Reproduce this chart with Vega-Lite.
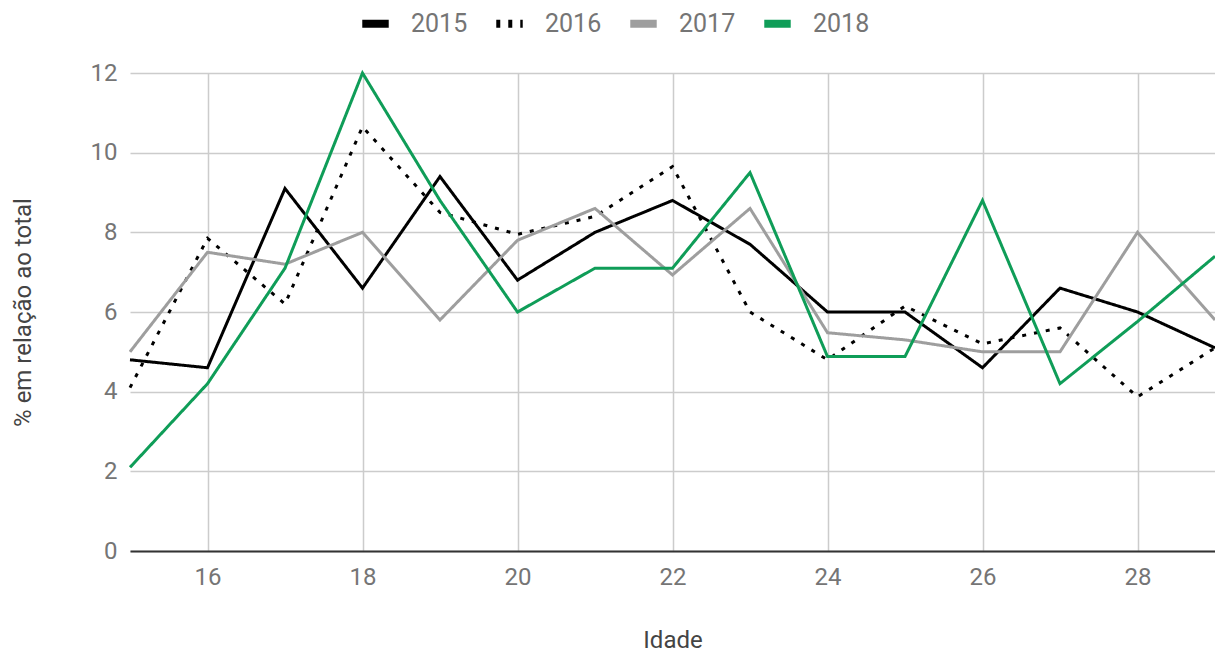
{
  "$schema": "https://vega.github.io/schema/vega-lite/v6.json",
  "width": 1085,
  "height": 478,
  "autosize": {"type": "none"},
  "padding": {"left": 130, "top": 73, "right": 0, "bottom": 103},
  "background": "white",
  "config": {
    "view": {"stroke": null},
    "font": "Roboto",
    "axis": {"labelFont": "Roboto", "titleFont": "Roboto"},
    "legend": {"labelFont": "Roboto"}
  },
  "data": {
    "values": [
      {"idade": 15, "ano": "2015", "pct": 4.8},
      {"idade": 16, "ano": "2015", "pct": 4.6},
      {"idade": 17, "ano": "2015", "pct": 9.1},
      {"idade": 18, "ano": "2015", "pct": 6.6},
      {"idade": 19, "ano": "2015", "pct": 9.4},
      {"idade": 20, "ano": "2015", "pct": 6.8},
      {"idade": 21, "ano": "2015", "pct": 8.0},
      {"idade": 22, "ano": "2015", "pct": 8.8},
      {"idade": 23, "ano": "2015", "pct": 7.7},
      {"idade": 24, "ano": "2015", "pct": 6.0},
      {"idade": 25, "ano": "2015", "pct": 6.0},
      {"idade": 26, "ano": "2015", "pct": 4.6},
      {"idade": 27, "ano": "2015", "pct": 6.6},
      {"idade": 28, "ano": "2015", "pct": 6.0},
      {"idade": 29, "ano": "2015", "pct": 5.1},
      {"idade": 15, "ano": "2016", "pct": 4.1},
      {"idade": 16, "ano": "2016", "pct": 7.85},
      {"idade": 17, "ano": "2016", "pct": 6.2},
      {"idade": 18, "ano": "2016", "pct": 10.65},
      {"idade": 19, "ano": "2016", "pct": 8.5},
      {"idade": 20, "ano": "2016", "pct": 7.95},
      {"idade": 21, "ano": "2016", "pct": 8.4},
      {"idade": 22, "ano": "2016", "pct": 9.65},
      {"idade": 23, "ano": "2016", "pct": 6.0},
      {"idade": 24, "ano": "2016", "pct": 4.8},
      {"idade": 25, "ano": "2016", "pct": 6.15},
      {"idade": 26, "ano": "2016", "pct": 5.2},
      {"idade": 27, "ano": "2016", "pct": 5.6},
      {"idade": 28, "ano": "2016", "pct": 3.87},
      {"idade": 29, "ano": "2016", "pct": 5.1},
      {"idade": 15, "ano": "2017", "pct": 5.0},
      {"idade": 16, "ano": "2017", "pct": 7.5},
      {"idade": 17, "ano": "2017", "pct": 7.2},
      {"idade": 18, "ano": "2017", "pct": 8.0},
      {"idade": 19, "ano": "2017", "pct": 5.8},
      {"idade": 20, "ano": "2017", "pct": 7.8},
      {"idade": 21, "ano": "2017", "pct": 8.6},
      {"idade": 22, "ano": "2017", "pct": 6.93},
      {"idade": 23, "ano": "2017", "pct": 8.6},
      {"idade": 24, "ano": "2017", "pct": 5.48},
      {"idade": 25, "ano": "2017", "pct": 5.3},
      {"idade": 26, "ano": "2017", "pct": 5.0},
      {"idade": 27, "ano": "2017", "pct": 5.0},
      {"idade": 28, "ano": "2017", "pct": 8.0},
      {"idade": 29, "ano": "2017", "pct": 5.8},
      {"idade": 15, "ano": "2018", "pct": 2.1},
      {"idade": 16, "ano": "2018", "pct": 4.2},
      {"idade": 17, "ano": "2018", "pct": 7.1},
      {"idade": 18, "ano": "2018", "pct": 12.0},
      {"idade": 19, "ano": "2018", "pct": 8.8},
      {"idade": 20, "ano": "2018", "pct": 6.0},
      {"idade": 21, "ano": "2018", "pct": 7.1},
      {"idade": 22, "ano": "2018", "pct": 7.1},
      {"idade": 23, "ano": "2018", "pct": 9.5},
      {"idade": 24, "ano": "2018", "pct": 4.88},
      {"idade": 25, "ano": "2018", "pct": 4.88},
      {"idade": 26, "ano": "2018", "pct": 8.8},
      {"idade": 27, "ano": "2018", "pct": 4.2},
      {"idade": 28, "ano": "2018", "pct": 5.76},
      {"idade": 29, "ano": "2018", "pct": 7.4}
    ]
  },
  "mark": {"type": "line", "strokeWidth": 3, "strokeCap": "butt", "strokeJoin": "miter"},
  "encoding": {
    "x": {
      "field": "idade",
      "type": "quantitative",
      "scale": {"domain": [15, 29], "nice": false, "zero": false},
      "axis": {
        "title": "Idade",
        "values": [16, 18, 20, 22, 24, 26, 28],
        "grid": true,
        "gridColor": "#cccccc",
        "gridWidth": 1.5,
        "domainColor": "#333333",
        "domainWidth": 2,
        "ticks": false,
        "labelFontSize": 24,
        "labelFontWeight": "normal",
        "labelColor": "#757575",
        "labelPadding": 14,
        "titleFontSize": 24,
        "titleFontWeight": "normal",
        "titleColor": "#444444",
        "titlePadding": 39
      }
    },
    "y": {
      "field": "pct",
      "type": "quantitative",
      "scale": {"domain": [0, 12], "nice": false},
      "axis": {
        "title": "% em relação ao total",
        "values": [0, 2, 4, 6, 8, 10, 12],
        "grid": true,
        "gridColor": "#cccccc",
        "gridWidth": 1.5,
        "domain": false,
        "ticks": false,
        "labelFontSize": 24,
        "labelFontWeight": "normal",
        "labelColor": "#757575",
        "labelPadding": 13,
        "titleFontSize": 24,
        "titleFontWeight": "normal",
        "titleColor": "#444444",
        "titlePadding": 55
      }
    },
    "color": {
      "field": "ano",
      "type": "nominal",
      "scale": {"domain": ["2015", "2016", "2017", "2018"], "range": ["#000000", "#000000", "#9e9e9e", "#0f9d58"]},
      "legend": {
        "title": null,
        "orient": "none",
        "direction": "horizontal",
        "legendX": 228,
        "legendY": -67,
        "symbolType": "stroke",
        "symbolStrokeWidth": 8,
        "symbolSize": 700,
        "labelFontSize": 25,
        "labelFontWeight": "normal",
        "labelColor": "#757575",
        "labelOffset": 18,
        "columnPadding": 12,
        "encode": {
          "symbols": {"update": {"strokeDash": {"signal": "datum.value === '2016' ? [6, 15] : [1, 0]"}}}
        }
      }
    },
    "strokeDash": {
      "field": "ano",
      "type": "nominal",
      "scale": {"domain": ["2015", "2016", "2017", "2018"], "range": [[1, 0], [4, 8], [1, 0], [1, 0]]},
      "legend": null
    }
  }
}
